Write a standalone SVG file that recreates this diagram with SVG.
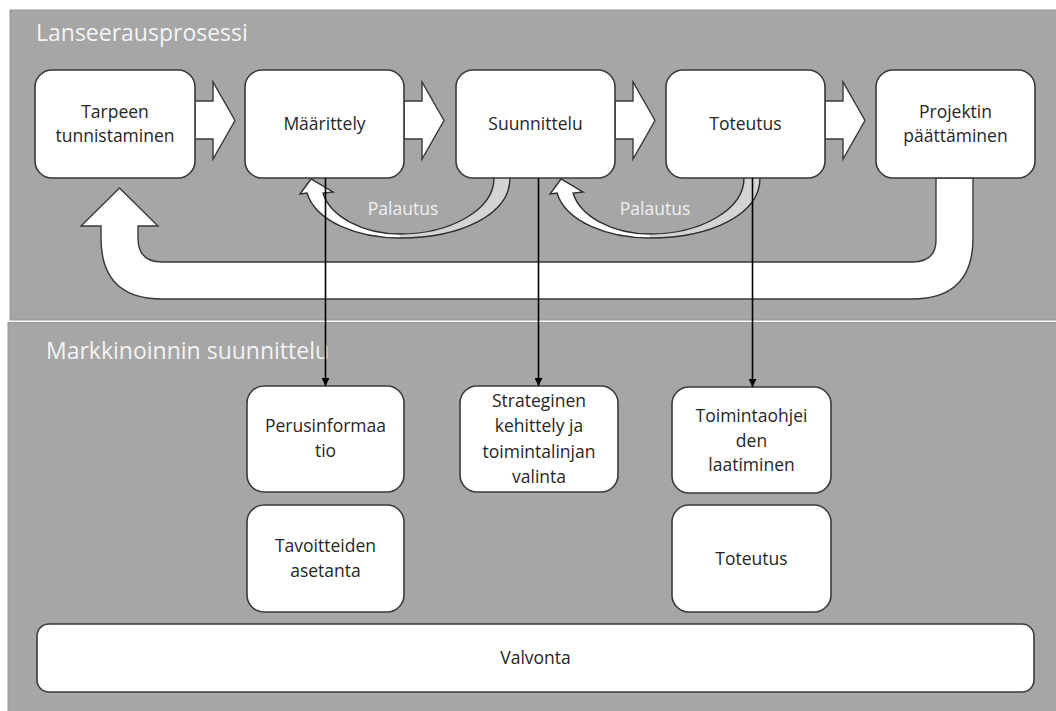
<svg xmlns="http://www.w3.org/2000/svg" width="1056" height="711" viewBox="0 0 1056 711">
<defs>
<style>
.panel{fill:#a6a6a6;stroke:#979797;stroke-width:1}
.box{fill:#ffffff;stroke:#3a3a3a;stroke-width:1.6}
.blk{fill:#ffffff;stroke:#3a3a3a;stroke-width:1.4;stroke-linejoin:miter}
.back{fill:#d4d4d4;stroke:none}
.front{fill:#ffffff;stroke:none}
.edge{fill:none;stroke:#2e2e2e;stroke-width:1.4;stroke-linejoin:miter}
.t{font-family:"Open Sans","Liberation Sans",sans-serif;font-size:17.5px;fill:#262626;text-anchor:middle}
.title{font-family:"Open Sans","Liberation Sans",sans-serif;font-size:23px;fill:#f4f4f4}
.pal{font-family:"Open Sans","Liberation Sans",sans-serif;font-size:17.5px;fill:#f0f0f0;text-anchor:middle}
.conn{stroke:#000000;stroke-width:1.6;fill:none}
</style>
<marker id="ah" viewBox="0 0 10 10" refX="10" refY="5" markerWidth="8" markerHeight="8" markerUnits="userSpaceOnUse" orient="auto">
<path d="M0,0 L10,5 L0,10 Z" fill="#000000"/>
</marker>
<g id="palautusShape">
<path class="back" d="M400,238 C460,238 510,215 510,178 L494,178 C494,210 450,234 400,234 Z"/>
<path class="front" d="M400,238 C358,238 316,222 307,193 L300,194 L311,179 L333,192 L323,193 C330,216 362,234 400,234 Z"/>
<path class="edge" d="M510,178 C510,215 460,238 400,238 C358,238 316,222 307,193 L300,194 L311,179 L333,192 L323,193 C330,216 362,234 400,234 C450,234 494,210 494,178"/>
</g>
<path id="blockArrow" class="blk" d="M0,101 L18,101 L18,82 L40,120.5 L18,159 L18,139 L0,139 Z"/>
</defs>

<g id="panels">
<rect class="panel" x="10" y="10" width="1047" height="310"/>
<rect class="panel" x="8" y="322.5" width="1049" height="390"/>
<text class="title" x="36" y="41">Lanseerausprosessi</text>
<text class="title" x="46" y="359">Markkinoinnin suunnittelu</text>
</g>

<g id="flow-arrows">
<use href="#blockArrow" x="195"/>
<use href="#blockArrow" x="404"/>
<use href="#blockArrow" x="615"/>
<use href="#blockArrow" x="825"/>
<path id="return-arrow" class="blk" d="M936,178 L936,240 Q936,262 912,262 L162,262 Q138,262 138,238 L138,226 L158,226 L119.5,188 L81,226 L101,226 L101,238 Q101,299 162,299 L912,299 Q973,299 973,238 L973,178 Z"/>
</g>

<g id="palautus-1">
<use href="#palautusShape"/>
<text class="pal" x="403" y="215">Palautus</text>
</g>
<g id="palautus-2">
<use href="#palautusShape" x="250"/>
<text class="pal" x="655" y="215">Palautus</text>
</g>

<g id="node-tarpeen">
<rect class="box" x="35" y="70" width="160" height="108" rx="17"/>
<text class="t" x="115" y="118">Tarpeen</text>
<text class="t" x="115" y="142">tunnistaminen</text>
</g>
<g id="node-maarittely">
<rect class="box" x="245" y="70" width="159" height="108" rx="17"/>
<text class="t" x="324.5" y="130">Määrittely</text>
</g>
<g id="node-suunnittelu">
<rect class="box" x="456" y="70" width="159" height="108" rx="17"/>
<text class="t" x="535.5" y="130">Suunnittelu</text>
</g>
<g id="node-toteutus-top">
<rect class="box" x="666" y="70" width="159" height="108" rx="17"/>
<text class="t" x="745.5" y="130">Toteutus</text>
</g>
<g id="node-projektin">
<rect class="box" x="876" y="70" width="159" height="108" rx="17"/>
<text class="t" x="955.5" y="118">Projektin</text>
<text class="t" x="955.5" y="142">päättäminen</text>
</g>

<g id="node-perusinformaatio">
<rect class="box" x="247" y="386" width="157" height="106" rx="17"/>
<text class="t" x="325.5" y="432">Perusinformaa</text>
<text class="t" x="325.5" y="457">tio</text>
</g>
<g id="node-strateginen">
<rect class="box" x="460" y="386" width="158" height="106" rx="17"/>
<text class="t" x="539" y="407">Strateginen</text>
<text class="t" x="539" y="432">kehittely ja</text>
<text class="t" x="539" y="458">toimintalinjan</text>
<text class="t" x="539" y="483">valinta</text>
</g>
<g id="node-toimintaohjeiden">
<rect class="box" x="672" y="387" width="159" height="106" rx="17"/>
<text class="t" x="751.5" y="422">Toimintaohjei</text>
<text class="t" x="751.5" y="447">den</text>
<text class="t" x="751.5" y="471">laatiminen</text>
</g>
<g id="node-tavoitteiden">
<rect class="box" x="247" y="505" width="157" height="107" rx="17"/>
<text class="t" x="325.5" y="552">Tavoitteiden</text>
<text class="t" x="325.5" y="577">asetanta</text>
</g>
<g id="node-toteutus-bottom">
<rect class="box" x="672" y="505" width="159" height="107" rx="17"/>
<text class="t" x="751.5" y="565">Toteutus</text>
</g>
<g id="node-valvonta">
<rect class="box" x="37" y="624" width="997" height="68" rx="12"/>
<text class="t" x="535.5" y="664">Valvonta</text>
</g>

<g id="connectors">
<line class="conn" x1="325.5" y1="178" x2="325.5" y2="386" marker-end="url(#ah)"/>
<line class="conn" x1="538.5" y1="178" x2="538.5" y2="386" marker-end="url(#ah)"/>
<line class="conn" x1="752.5" y1="178" x2="752.5" y2="387" marker-end="url(#ah)"/>
</g>
</svg>
